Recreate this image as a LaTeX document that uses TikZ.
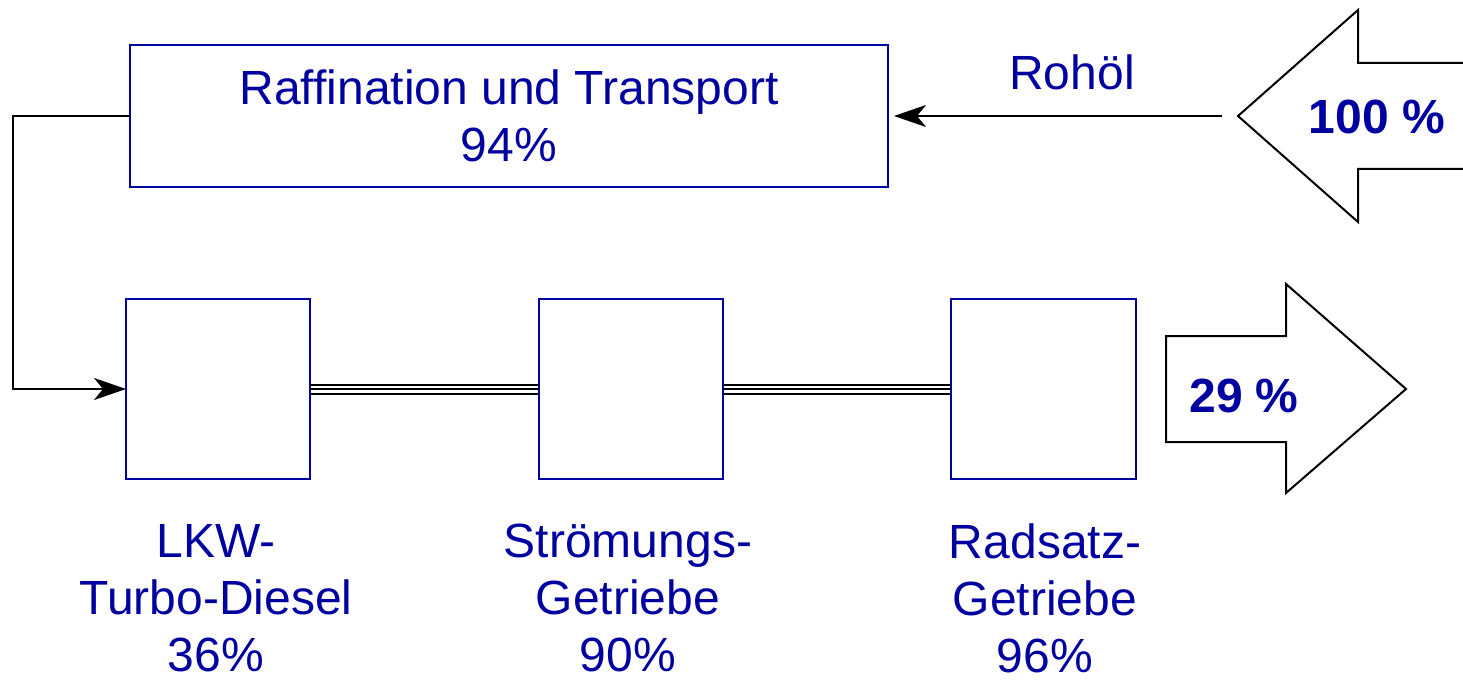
\documentclass[tikz,border=0pt]{standalone}
\usepackage{fontspec}
\setmainfont{Liberation Sans}
\usetikzlibrary{arrows.meta}
\definecolor{dblue}{RGB}{0,0,160}
\tikzset{
  box/.style={draw=dblue, line width=2pt, fill=white, inner sep=0pt, outer sep=0pt},
  lbl/.style={text=dblue, font=\fontsize{48}{57}\selectfont, align=center, inner sep=0pt},
  big/.style={text=dblue, font=\fontsize{48}{57}\selectfont\bfseries, inner sep=0pt},
  conn/.style={line width=2pt, -{Stealth[length=32pt,width=22pt,inset=9pt]}},
  shaftline/.style={line width=2pt},
  bigarrow/.style={draw=black, line width=2pt, fill=white, line join=miter}
}
\begin{document}
\begin{tikzpicture}[x=1pt,y=-1pt]
\useasboundingbox (0,0) rectangle (1463,684);
% top box
\node[box, minimum width=758pt, minimum height=142pt] (top) at (509,116) {};
\node[lbl] (toptxt) at (509,116) {Raffination und Transport\\94\%};
% small boxes
\node[box, minimum width=184pt, minimum height=180pt] (b1) at (218,389) {};
\node[box, minimum width=184pt, minimum height=180pt] (b2) at (631,389) {};
\node[box, minimum width=185pt, minimum height=180pt] (b3) at (1043.5,389) {};
% labels
\node[lbl, anchor=north] (l1) at (216,524) {LKW-\\Turbo-Diesel\\36\%};
\node[lbl, anchor=north] (l2) at (628,524) {Strömungs-\\Getriebe\\90\%};
\node[lbl, anchor=north] (l3) at (1045,524) {Radsatz-\\Getriebe\\96\%};
% Rohoel
\node[lbl] (roh) at (1072,72) {Rohöl};
\coordinate (rstart) at (1222,116);
\draw[conn, shorten >=6pt] (rstart) -- (top.east);
% feed connector
\coordinate (corner) at (13,116);
\draw[conn] (top.west) -- (corner) |- (b1.west);
% triple shafts
\foreach \d in {-4.5,0,4.5}{
  \draw[shaftline] ([yshift=\d pt]b1.east) -- ([yshift=\d pt]b2.west);
  \draw[shaftline] ([yshift=\d pt]b2.east) -- ([yshift=\d pt]b3.west);
}
% big input arrow
\begin{scope}
\clip (0,0) rectangle (1463,684);
\draw[bigarrow] (1470,63) -- (1358,63) -- (1358,10) -- (1238,116) -- (1358,222) -- (1358,169) -- (1470,169);
\end{scope}
\node[big] (in) at (1377,117) {100 \%};
% big output arrow
\draw[bigarrow] (1166,336) -- (1286,336) -- (1286,284) -- (1406,389) -- (1286,493) -- (1286,442) -- (1166,442) -- cycle;
\node[big] (out) at (1244,396) {29 \%};
\end{tikzpicture}
\end{document}
